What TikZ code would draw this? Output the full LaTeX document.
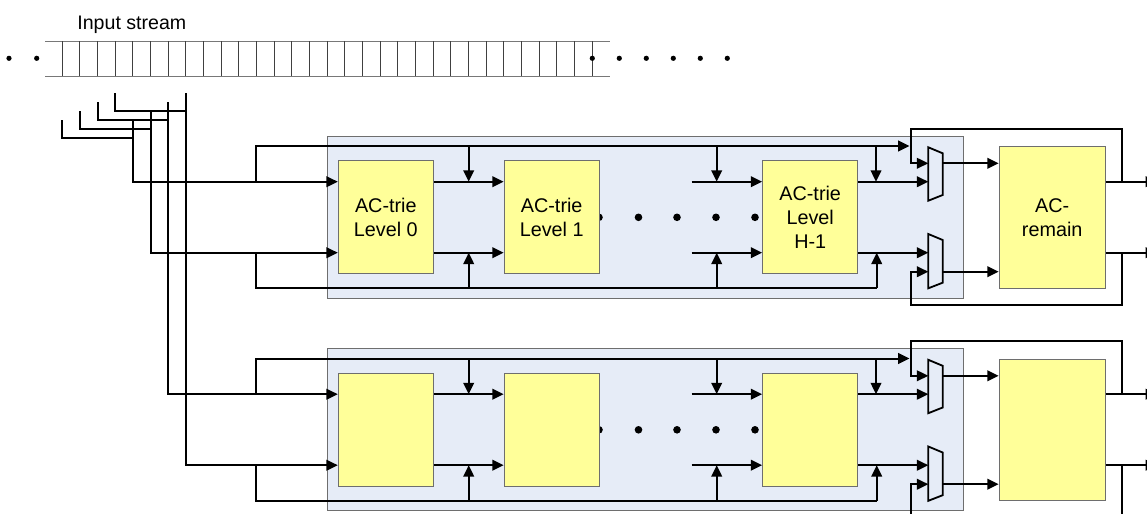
\documentclass[tikz,border=0pt]{standalone}
\usepackage{fontspec}
\setmainfont{Liberation Sans}
\usetikzlibrary{arrows.meta,calc}
\definecolor{modfill}{RGB}{230,236,247}
\definecolor{boxfill}{RGB}{255,255,153}
\definecolor{edgegray}{RGB}{110,110,110}
\definecolor{tapegray}{RGB}{120,120,120}
\begin{document}
\begin{tikzpicture}[x=0.5pt,y=-0.5pt,
  wire/.style={line width=1pt},
  arr/.style={wire,-{Triangle[length=5.7pt,width=5.3pt]}},
  trie/.style={draw=edgegray,line width=0.5pt,fill=boxfill,minimum width=47.5pt,minimum height=56.5pt,inner sep=0pt,align=center,font=\fontsize{9.9}{11.9}\selectfont},
  remain/.style={trie,minimum width=53pt,minimum height=70.8pt},
  module/.style={draw=edgegray,line width=0.5pt,fill=modfill},
  mux/.style={draw=black,line width=0.9pt,fill=modfill},
  bigdot/.style={circle,fill=black,inner sep=0pt,minimum size=3.8pt},
  smalldot/.style={circle,fill=black,inner sep=0pt,minimum size=2.6pt},
  tapeline/.style={draw=tapegray,line width=0.5pt},
  celline/.style={draw=black!75,line width=0.5pt}
]
\clip (0,0) rectangle (1147,514);
% input stream tape
\node[anchor=base west,inner sep=0pt,font=\fontsize{9.8}{11.8}\selectfont] (title) at (77,29.3) {Input stream};
\draw[tapeline] (45,41) -- (610,41);
\draw[tapeline] (45,76) -- (610,76);
\foreach \k in {0,...,30} {
  \draw[celline] ({62.3+17.667*\k},41) -- ({62.3+17.667*\k},76);
}
\foreach \x [count=\i] in {9,36.7} {\node[smalldot] (ld\i) at (\x,58.3) {};}
\foreach \x [count=\i] in {592.3,619.3,646.3,673.3,700.3,727.3} {\node[smalldot] (rd\i) at (\x,58.3) {};}

% modules
\foreach \m/\off/\ta/\tb/\th/\tr in {a/0/{AC-trie\\Level 0}/{AC-trie\\Level 1}/{AC-trie\\Level\\H-1}/{AC-\\remain}, b/212.5/{}/{}/{}/{}} {
  \pgfmathsetmacro\ya{181.7+\off}
  \pgfmathsetmacro\yb{252.7+\off}
  \pgfmathsetmacro\yt{146+\off}
  \pgfmathsetmacro\yB{288.3+\off}
  \pgfmathsetmacro\yfa{163.3+\off}
  \pgfmathsetmacro\yfb{271.7+\off}
  \pgfmathsetmacro\yla{128.7+\off}
  \pgfmathsetmacro\ylb{305+\off}
  \pgfmathsetmacro\ym{217.3+\off}
  \draw[module] (327.3,136+\off) rectangle (963.3,298.3+\off);
  \foreach \x [count=\i] in {599,638.5,677,716,755} {\node[bigdot] (d\m\i) at (\x,\ym) {};}
  \node[trie] (L0\m) at (385.8,\ym) {\ta};
  \node[trie] (L1\m) at (551.7,\ym) {\tb};
  \node[trie] (LH\m) at (810.2,\ym) {\th};
  \node[remain] (R\m) at (1052.2,217.5+\off) {\tr};
  % buses
  \coordinate (ta\m) at (256,\ya);
  \coordinate (tb\m) at (256,\yb);
  \draw[arr] (ta\m) -- (256,\yt) -- (909.5,\yt);
  \draw[wire] (tb\m) -- (256,\yB) -- (876.7,\yB);
  % level 0 -> level 1
  \draw[arr] (L0\m.east |- 0,\ya) -- (L1\m.west |- 0,\ya);
  \draw[arr] (L0\m.east |- 0,\yb) -- (L1\m.west |- 0,\yb);
  \draw[arr] (468.7,\yt) -- (468.7,\ya);
  \draw[arr] (468.7,\yB) -- (468.7,\yb);
  % -> level H-1
  \draw[arr] (691.7,\ya) -- (LH\m.west |- 0,\ya);
  \draw[arr] (691.7,\yb) -- (LH\m.west |- 0,\yb);
  \draw[arr] (716.7,\yt) -- (716.7,\ya);
  \draw[arr] (716.7,\yB) -- (716.7,\yb);
  % muxes
  \draw[mux] (928.3,147.3+\off) -- (942.7,153.3+\off) -- (942.7,195+\off) -- (928.3,200.7+\off) -- cycle;
  \draw[mux] (928.3,234+\off) -- (942.7,240+\off) -- (942.7,282.7+\off) -- (928.3,288.3+\off) -- cycle;
  \coordinate (ma\m) at (928.3,\ya);
  \coordinate (mb\m) at (928.3,\yb);
  \coordinate (fa\m) at (928.3,\yfa);
  \coordinate (fb\m) at (928.3,\yfb);
  % level H-1 -> muxes
  \draw[arr] (LH\m.east |- 0,\ya) -- (ma\m);
  \draw[arr] (LH\m.east |- 0,\yb) -- (mb\m);
  \draw[arr] (876,\yt) -- (876,\ya);
  \draw[arr] (876.7,\yB) -- (876.7,\yb);
  % muxes -> AC-remain
  \draw[arr] (942.7,\yfa) -- (R\m.west |- 0,\yfa);
  \draw[arr] (942.7,\yfb) -- (R\m.west |- 0,\yfb);
  % AC-remain outputs
  \draw[arr] (R\m.east |- 0,\ya) -- (1157,\ya);
  \draw[arr] (R\m.east |- 0,\yb) -- (1157,\yb);
  % feedback loops
  \draw[arr] (1122.3,\ya) -- (1122.3,\yla) -- (910.5,\yla) -- (910.5,\yfa) -- (fa\m);
  \draw[arr] (1122.3,\yb) -- (1122.3,\ylb) -- (910.5,\ylb) -- (910.5,\yfb) -- (fb\m);
}

% taps from the input stream
\draw[wire] (115.3,93.3) -- (115.3,111) -- (186,111);
\draw[wire] (97.7,102.3) -- (97.7,120.3) -- (168.3,120.3);
\draw[wire] (80,111) -- (80,128.7) -- (150.7,128.7);
\draw[wire] (62.3,120) -- (62.3,137.7) -- (133,137.7);
\draw[arr] (133,120) -- (133,181.7) -- (L0a.west |- 0,181.7);
\draw[arr] (150.7,111) -- (150.7,252.7) -- (L0a.west |- 0,252.7);
\draw[arr] (168.3,102.3) -- (168.3,394.2) -- (L0b.west |- 0,394.2);
\draw[arr] (186,93.3) -- (186,465.2) -- (L0b.west |- 0,465.2);
\end{tikzpicture}
\end{document}
